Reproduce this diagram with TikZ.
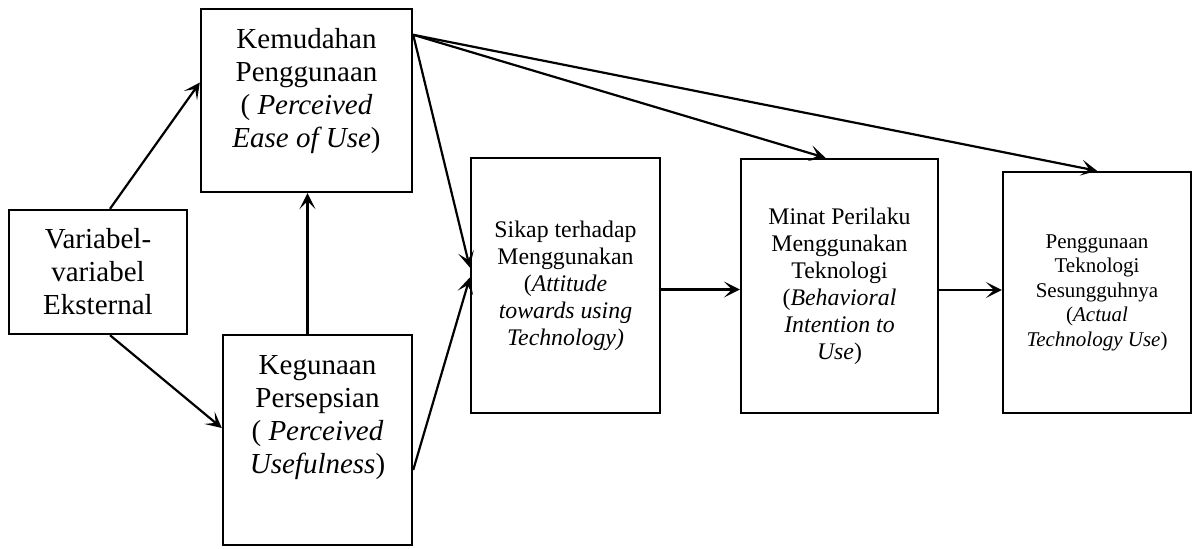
\documentclass[tikz,border=0pt]{standalone}
\usepackage{fontspec}
\setmainfont{Liberation Serif}
\usetikzlibrary{arrows.meta}

\begin{document}
\begin{tikzpicture}[
    x=0.5pt, y=-0.5pt,
    >={Stealth[length=8pt, width=8pt, inset=4pt]},
    % Define the style for the boxes
    box/.style={rectangle, draw=black, line width=1.2pt, align=center, inner sep=2pt},
    bigtext/.style={font=\fontsize{14.5}{16.5}\selectfont},
    midtext/.style={font=\fontsize{11.9}{13.5}\selectfont},
    smalltext/.style={font=\fontsize{10.5}{12.25}\selectfont},
    link/.style={->, line width=1.1pt}
]
    \useasboundingbox (0,0) rectangle (1192,548);

    % external variables
    \node[box, bigtext, minimum width=89pt, minimum height=62pt] (ext) at (98,272)
        {Variabel-\\variabel\\Eksternal};

    % perceptions
    \node[box, bigtext, minimum width=105.5pt, minimum height=91.5pt] (mudah) at (306.5,100.5)
        {Kemudahan\\Penggunaan\\( \textit{Perceived}\\\textit{Ease of Use})\\[-3.5pt]\mbox{}};
    \node[box, bigtext, minimum width=94.5pt, minimum height=105pt] (guna) at (317.5,440)
        {Kegunaan\\Persepsian\\( \textit{Perceived}\\\textit{Usefulness})\\[9.5pt]\mbox{}};

    % attitude, intention, use
    \node[box, midtext, minimum width=94.5pt, minimum height=127.5pt] (sikap) at (565.5,285.5)
        {Sikap terhadap\\Menggunakan\\(\textit{Attitude}\\\textit{towards using}\\\textit{Technology)}};
    \node[box, midtext, minimum width=98.5pt, minimum height=127pt] (minat) at (839.5,286)
        {Minat Perilaku\\Menggunakan\\Teknologi\\(\textit{Behavioral}\\\textit{Intention to}\\\textit{Use})};
    \node[box, smalltext, minimum width=94pt, minimum height=120.5pt] (pakai) at (1097,292.5)
        {Penggunaan\\Teknologi\\Sesungguhnya\\(\textit{Actual}\\\textit{Technology Use})};

    % links
    \draw[link] ([xshift=6pt]ext.north) -- ([yshift=9pt]mudah.west);
    \draw[link] ([xshift=6pt]ext.south) -- ([yshift=6pt]guna.west);
    \draw[link] ([xshift=-5pt]guna.north) -- ([xshift=-5pt]guna.north |- mudah.south);

    \coordinate (mudah-out) at ([yshift=-13.5pt]mudah.north east);
    \draw[link] (mudah-out) -- ([yshift=9pt]sikap.west);
    \draw[link] ([yshift=-15pt]guna.east) -- ([yshift=4pt]sikap.west);
    \draw[link] (mudah-out) -- ([xshift=-7pt]minat.north);
    \draw[link] (mudah-out) -- (pakai.north);

    \draw[link] ([yshift=-2pt]sikap.east) -- ([yshift=-2pt]sikap.east -| minat.west);
    \draw[link] ([yshift=-2pt]minat.east) -- ([yshift=-2pt]minat.east -| pakai.west);

\end{tikzpicture}
\end{document}
